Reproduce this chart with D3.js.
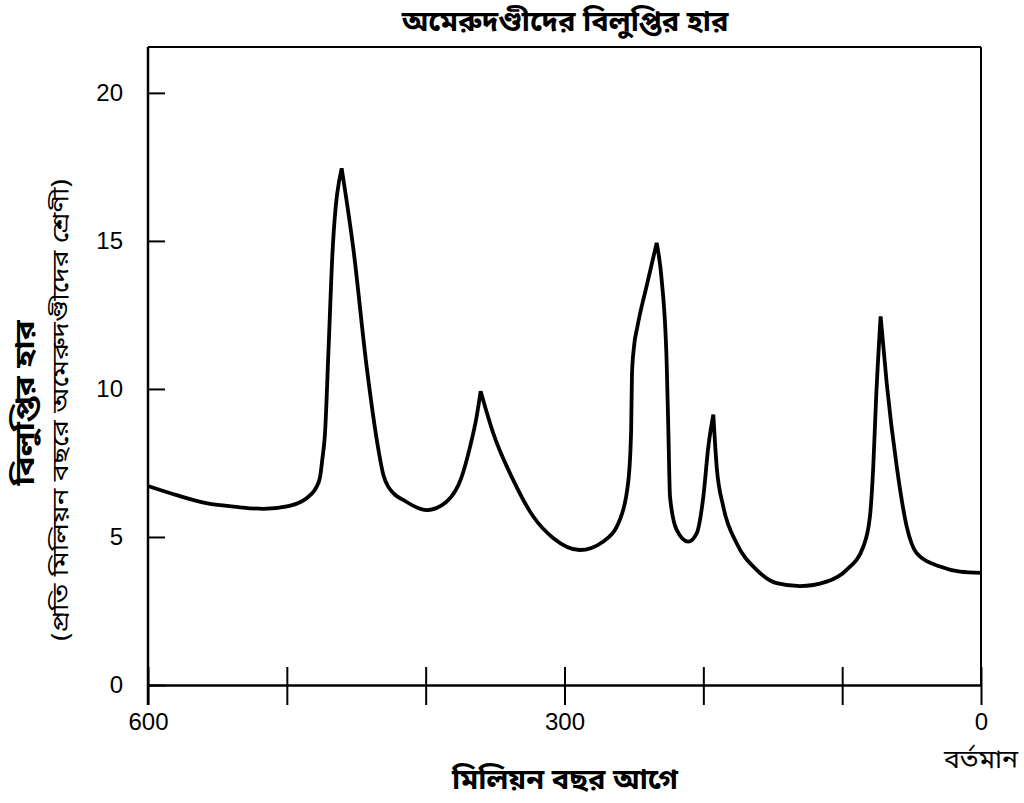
<!DOCTYPE html>
<html>
<head>
<meta charset="utf-8">
<script src="https://cdn.jsdelivr.net/npm/d3@7"></script>
<style>
  body { margin: 0; background: #fff; }
  svg { display: block; }
  .bn { font-family: "Noto Sans Bengali", "Noto Serif Bengali", "Lohit Bengali", "Noto Sans", sans-serif; }
  .num { font-family: "Liberation Sans", Arial, Helvetica, sans-serif; }
</style>
</head>
<body>
<svg id="chart" width="1024" height="803"></svg>
<script>
// ---- data ----
const ages = [600, 580, 558, 535, 517, 498, 483, 479, 476, 474.5, 472.5, 470, 467, 460.5, 452, 442.5, 434, 430.5, 427, 414, 399, 385, 374, 368, 363.3, 360.4, 351.3, 337, 322.5, 308, 289, 272, 260, 254, 252, 251.4, 250, 247.5, 241, 233.6, 230, 226.4, 225.2, 224, 219.2, 210.8, 204.8, 200, 196.4, 192.8, 190.4, 185.6, 176, 161.6, 147.2, 130.4, 111.2, 96.8, 84.8, 80, 77.6, 75.6, 72.3, 67.9, 60.7, 53.5, 46.3, 29.5, 15.1, 0];
const rates = [6.72, 6.42, 6.14, 6.01, 5.95, 6.05, 6.42, 6.66, 7.04, 7.6, 8.5, 11.3, 14.7, 17.45, 14.7, 10.75, 7.94, 7.1, 6.7, 6.19, 5.91, 6.19, 7.04, 8.05, 9.06, 9.92, 8.5, 6.93, 5.69, 4.96, 4.56, 4.85, 5.6, 6.9, 8.6, 10.5, 11.4, 12.1, 13.45, 14.93, 13.68, 10.87, 8.61, 6.36, 5.24, 4.84, 5.12, 6.36, 8.05, 9.13, 7.38, 6.02, 4.79, 3.89, 3.44, 3.34, 3.49, 3.89, 4.67, 5.69, 7.38, 9.63, 12.45, 10.19, 7.38, 5.35, 4.45, 4.0, 3.83, 3.79];
const peakAges = [460.5, 360.4, 233.6, 192.8, 72.3];
const xTicks = [600, 500, 400, 300, 200, 100, 0];
const xTickLabels = ["600", "", "", "300", "", "", "0"];
const yTicks = [0, 5, 10, 15, 20];
const titleText = "অমেরুদণ্ডীদের বিলুপ্তির হার";
const yLabel1 = "বিলুপ্তির হার";
const yLabel2 = "(প্রতি মিলিয়ন বছরে অমেরুদণ্ডীদের শ্রেণী)";
const xLabel = "মিলিয়ন বছর আগে";
const presentLabel = "বর্তমান";

// ---- layout ----
const L = 148, R = 981, T = 47, B = 685;
const svg = d3.select("#chart");
const x = d3.scaleLinear().domain([600, 0]).range([L, R]);
const y = d3.scaleLinear().domain([0, 21.55]).range([B, T]);

// frame top & right
svg.append("line").attr("x1", L).attr("x2", R).attr("y1", T).attr("y2", T)
  .attr("stroke", "#000").attr("stroke-width", 2);
svg.append("line").attr("x1", R).attr("x2", R).attr("y1", T).attr("y2", B)
  .attr("stroke", "#000").attr("stroke-width", 2);

// x axis
const xAxis = d3.axisBottom(x).tickValues(xTicks)
  .tickFormat((d, i) => xTickLabels[i]).tickSizeInner(20).tickSizeOuter(0).tickPadding(8);
const gx = svg.append("g").attr("transform", `translate(0,${B})`).call(xAxis);
gx.select(".domain").attr("stroke-width", 2.5);
gx.selectAll(".tick line").attr("y1", -18).attr("stroke-width", 2);
gx.selectAll(".tick text").attr("class", "num").attr("font-size", 24).attr("fill", "#000");

// y axis
const yAxis = d3.axisLeft(y).tickValues(yTicks).tickSizeInner(15).tickSizeOuter(0).tickPadding(10);
const gy = svg.append("g").attr("transform", `translate(${L},0)`).call(yAxis);
gy.select(".domain").attr("stroke-width", 2.5);
gy.selectAll(".tick line").attr("x2", 17).attr("stroke-width", 2);
gy.selectAll(".tick text").attr("class", "num").attr("font-size", 24).attr("fill", "#000");
gy.select(".domain").attr("d", `M0,${T}V${B + 20}`);

// curve: smooth (monotone) between sharp peaks
const pts = ages.map((a, i) => [a, rates[i]]);
const cut = [0, ...peakAges.map(p => ages.indexOf(p)), ages.length - 1];
const lineGen = d3.line().x(d => x(d[0])).y(d => y(d[1])).curve(d3.curveMonotoneX);
let dStr = "";
for (let k = 0; k < cut.length - 1; k++) {
  const seg = pts.slice(cut[k], cut[k + 1] + 1);
  let s = lineGen(seg);
  if (k > 0) s = "L" + s.slice(1);
  dStr += s;
}
svg.append("path")
  .attr("fill", "none").attr("stroke", "#000").attr("stroke-width", 3.8)
  .attr("stroke-linejoin", "miter").attr("stroke-miterlimit", 4)
  .attr("d", dStr);

// texts
svg.append("text").attr("class", "bn").attr("x", 565).attr("y", 31)
  .attr("text-anchor", "middle").attr("font-size", 29).attr("font-weight", "bold").text(titleText);
svg.append("text").attr("class", "bn").attr("transform", "translate(34,403) rotate(-90)")
  .attr("text-anchor", "middle").attr("font-size", 27).attr("font-weight", "bold")
  .attr("textLength", 165).attr("lengthAdjust", "spacingAndGlyphs").text(yLabel1);
svg.append("text").attr("class", "bn").attr("transform", "translate(68,410) rotate(-90)")
  .attr("text-anchor", "middle").attr("font-size", 23)
  .attr("textLength", 462).attr("lengthAdjust", "spacingAndGlyphs").text(yLabel2);
svg.append("text").attr("class", "bn").attr("x", 565).attr("y", 789)
  .attr("text-anchor", "middle").attr("font-size", 29).attr("font-weight", "bold").text(xLabel);
svg.append("text").attr("class", "bn").attr("x", 981).attr("y", 768)
  .attr("text-anchor", "middle").attr("font-size", 25).attr("textLength", 74).attr("lengthAdjust", "spacingAndGlyphs").text(presentLabel);
</script>
</body>
</html>
